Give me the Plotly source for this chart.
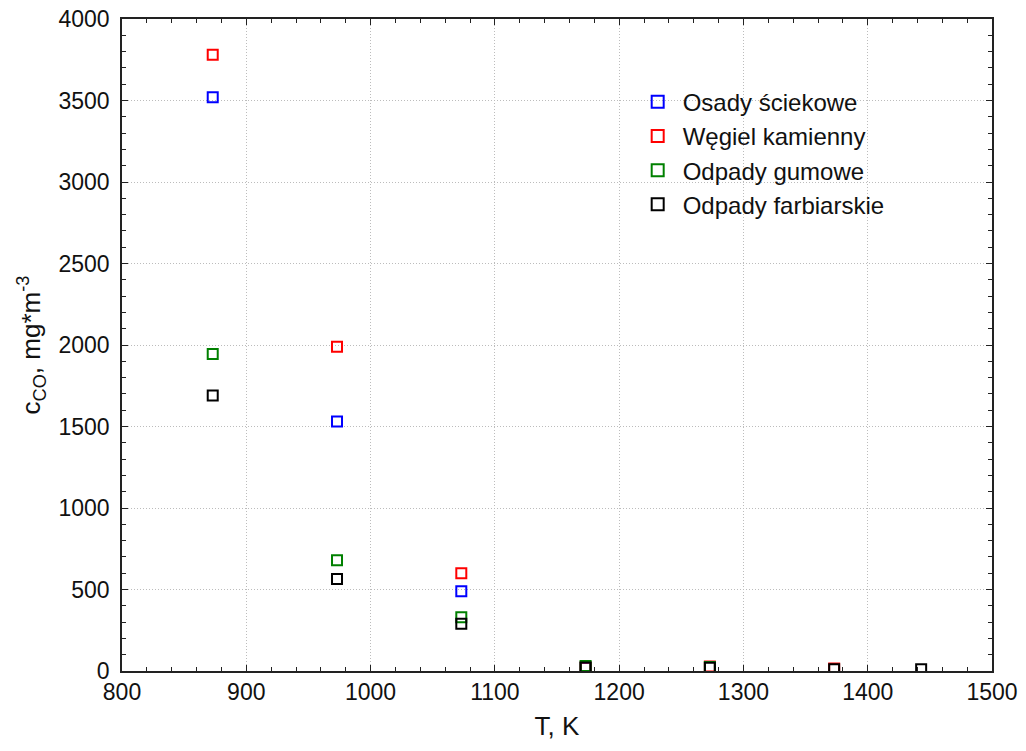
import plotly.graph_objects as go

T = [873, 973, 1073, 1173, 1273, 1373, 1443]
osady = [3520, 1530, 490, 20, None, None, None]
wegiel = [3780, 1990, 600, 22, 28, 15, None]
gumowe = [1945, 680, 330, 30, 25, None, None]
farb = [1690, 565, 290, 22, 20, 10, 10]

names = ["Osady ściekowe", "Węgiel kamienny", "Odpady gumowe", "Odpady farbiarskie"]
series = [osady, wegiel, gumowe, farb]
colors = ["#0000ff", "#ff0000", "#008000", "#000000"]

fig = go.Figure()
for name, ys, c in zip(names, series, colors):
    xs = [t for t, v in zip(T, ys) if v is not None]
    vs = [v for v in ys if v is not None]
    fig.add_trace(go.Scatter(
        x=xs, y=vs, mode="markers", name=name,
        marker=dict(symbol="square-open", size=10, color=c, line=dict(width=2, color=c)),
    ))

font = "Liberation Sans, Arial, sans-serif"
axis_common = dict(
    showline=True, linecolor="#222222", linewidth=1.5, mirror="ticks",
    ticks="inside", ticklen=6, tickcolor="#222222", automargin=False,
    showgrid=True, gridcolor="#bcbcbc", griddash="1px,2px", gridwidth=1,
    zeroline=False, tickfont=dict(family=font, size=23, color="#111111"),
)
fig.update_layout(
    width=1026, height=751,
    margin=dict(l=122, r=34, t=19, b=80),
    paper_bgcolor="white", plot_bgcolor="white",
    font=dict(family=font, color="#111111"),
    showlegend=True,
    legend=dict(x=0.587, y=0.907, xanchor="left", yanchor="top",
                font=dict(family=font, size=24, color="#111111"),
                bgcolor="rgba(0,0,0,0)", itemsizing="constant", tracegroupgap=0,
                itemwidth=40),
    xaxis=dict(range=[800, 1500], dtick=100, tick0=800,
               title=dict(text="T, K", font=dict(family=font, size=26), standoff=12),
               minor=dict(dtick=20, ticks="inside", ticklen=4, tickcolor="#222222", showgrid=False),
               **axis_common),
    yaxis=dict(range=[0, 4000], dtick=500, tick0=0, ticklabelstandoff=6,
               title=dict(text="c<sub>CO</sub>, mg*m<sup>-3</sup>", font=dict(family=font, size=26), standoff=10),
               minor=dict(dtick=100, ticks="inside", ticklen=4, tickcolor="#222222", showgrid=False),
               **axis_common),
)

fig.write_html("out.html")
